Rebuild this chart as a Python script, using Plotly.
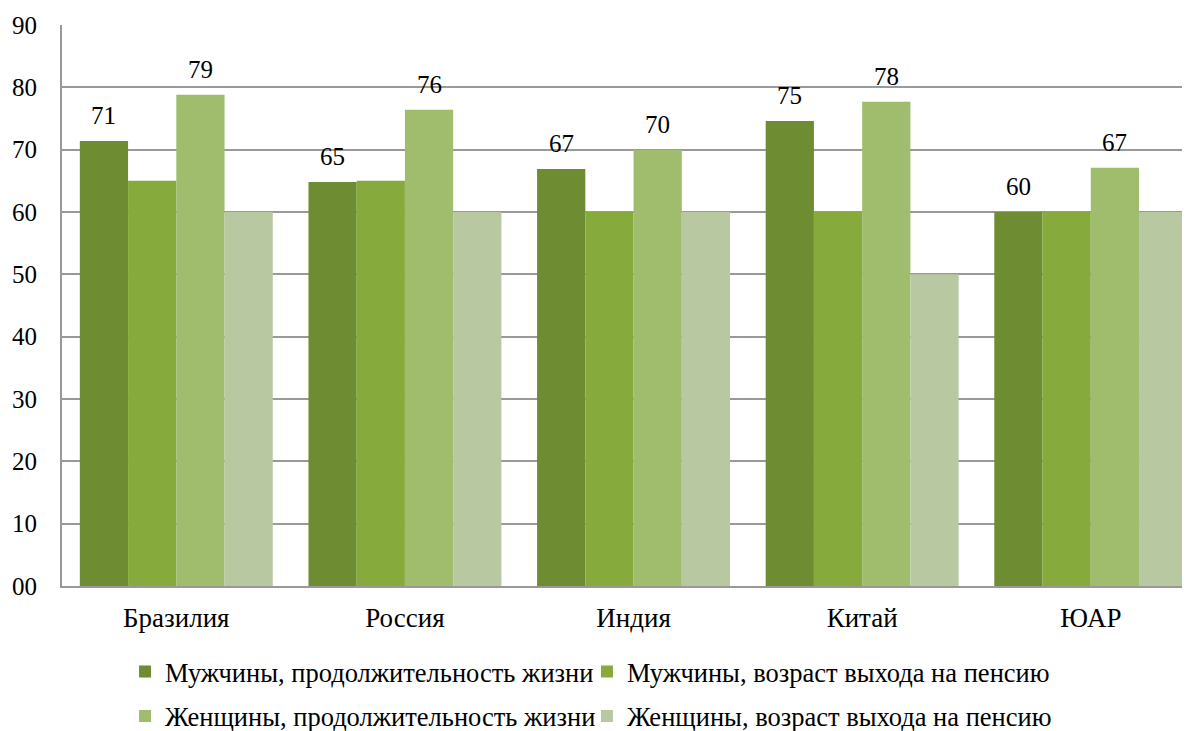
import plotly.graph_objects as go

categories = ["Бразилия", "Россия", "Индия", "Китай", "ЮАР"]
series_names = [
    "Мужчины, продолжительность жизни",
    "Мужчины, возраст выхода на пенсию",
    "Женщины, продолжительность жизни",
    "Женщины, возраст выхода на пенсию",
]
men_life = [71.4, 64.8, 66.9, 74.6, 60.0]
men_retire = [65, 65, 60, 60, 60]
women_life = [78.8, 76.4, 70.0, 77.7, 67.1]
women_retire = [60, 60, 60, 50, 60]
y_ticks = [0, 10, 20, 30, 40, 50, 60, 70, 80, 90]
y_ticktext = ["00", "10", "20", "30", "40", "50", "60", "70", "80", "90"]

colors = ["#6e8c31", "#87aa3d", "#9fbd6c", "#b8c9a1"]
values = [men_life, men_retire, women_life, women_retire]
legends = ["legend", "legend2", "legend3", "legend4"]

FONT = "Liberation Serif"
fig = go.Figure()
for name, vals, col, lg in zip(series_names, values, colors, legends):
    fig.add_trace(go.Bar(
        x=categories, y=vals, name=name, legend=lg, showlegend=True,
        marker=dict(color=col, line=dict(width=0)),
        hoverinfo="x+y+name",
    ))

# data labels for life expectancy series
ngroups = 4
bargap = 0.156
bw = (1 - bargap) / ngroups
for si in (0, 2):
    off = (si - (ngroups - 1) / 2) * bw
    for ci, v in enumerate(values[si]):
        fig.add_annotation(
            x=ci + off, y=v, xref="x", yref="y",
            text=str(round(v)), showarrow=False,
            yanchor="bottom", yshift=10,
            font=dict(family=FONT, size=25, color="#000000"),
        )

legend_x = [0.0559, 0.4654, 0.0559, 0.4654]
legend_y = [-0.153, -0.153, -0.232, -0.232]
leg_common = dict(orientation="h", xanchor="left", yanchor="middle",
                  font=dict(family=FONT, size=26.5), itemclick=False,
                  bgcolor="rgba(0,0,0,0)", visible=True)

fig.update_layout(
    template="none",
    showlegend=True,
    width=1182, height=723,
    margin=dict(l=54, r=0, t=17, b=145, autoexpand=False),
    paper_bgcolor="white", plot_bgcolor="white",
    barmode="group", bargap=bargap, bargroupgap=0,
    font=dict(family=FONT, size=26, color="#000000"),
    legend=dict(x=legend_x[0], y=legend_y[0], **leg_common),
    legend2=dict(x=legend_x[1], y=legend_y[1], **leg_common),
    legend3=dict(x=legend_x[2], y=legend_y[2], **leg_common),
    legend4=dict(x=legend_x[3], y=legend_y[3], **leg_common),
    xaxis=dict(range=[-0.5, 4.434], showline=True, linecolor="#999999", linewidth=2,
               showgrid=False, ticks="", ticklabelstandoff=7,
               tickfont=dict(family=FONT, size=27)),
    yaxis=dict(range=[0, 90], tickvals=y_ticks, ticktext=y_ticktext,
               showgrid=True, gridcolor="#999999", gridwidth=2,
               showline=True, linecolor="#999999", linewidth=2,
               zeroline=False, ticks="", ticklabelstandoff=18,
               tickfont=dict(family=FONT, size=25)),
)
fig.write_html("out.html")
